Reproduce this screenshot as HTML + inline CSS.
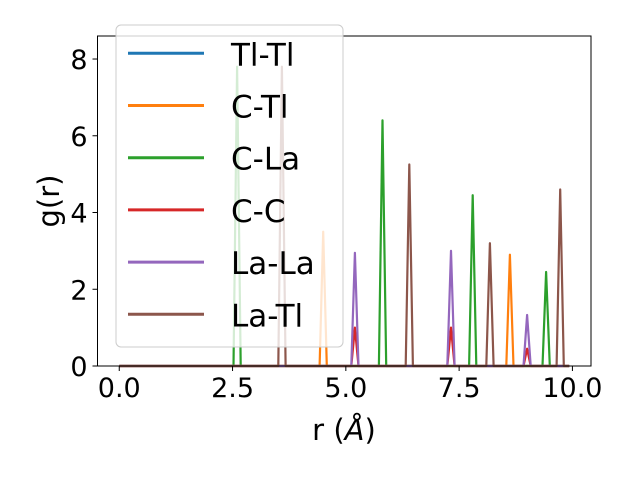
<!DOCTYPE html>
<html><head><meta charset="utf-8"><style>
body{margin:0;background:#fff;}
text{font-family:"DejaVu Sans","Liberation Sans",sans-serif;fill:#000;}
</style></head><body>
<svg id="chart" width="640" height="480" xmlns="http://www.w3.org/2000/svg">
<rect x="0" y="0" width="640" height="480" fill="#fff"/>
<g id="plot"></g>
<g id="axes"></g>
<g id="legend"></g>
</svg>
<script>
const seriesNames = ["Tl-Tl","C-Tl","C-La","C-C","La-La","La-Tl"];
const seriesColors = ["#1f77b4","#ff7f0e","#2ca02c","#d62728","#9467bd","#8c564b"];
const peakR_TlTl = [];
const peakG_TlTl = [];
const peakR_CTl = [4.5, 8.62];
const peakG_CTl = [3.5, 2.9];
const peakR_CLa = [2.6, 5.81, 7.8, 9.42];
const peakG_CLa = [7.8, 6.4, 4.45, 2.45];
const peakR_CC = [5.2, 7.32, 9.0];
const peakG_CC = [1.0, 1.0, 0.45];
const peakR_LaLa = [5.2, 7.32, 9.0];
const peakG_LaLa = [2.95, 3.0, 1.33];
const peakR_LaTl = [3.59, 6.4, 8.18, 9.73];
const peakG_LaTl = [7.8, 5.25, 3.2, 4.6];
const xTicks = [0, 2.5, 5, 7.5, 10];
const xTickLabels = ["0.0","2.5","5.0","7.5","10.0"];
const yTicks = [0, 2, 4, 6, 8];
const yTickLabels = ["0","2","4","6","8"];
const rMax = 9.93;

const NS="http://www.w3.org/2000/svg";
const L=97.5,R=591,T=36,B=366;
const xMin=-0.48,xMax=10.41,yMin=0,yMax=8.6;
const sx=v=>L+(v-xMin)/(xMax-xMin)*(R-L);
const sy=v=>B-(v-yMin)/(yMax-yMin)*(B-T);
function mk(tag,attrs,parent){const e=document.createElementNS(NS,tag);for(const k in attrs)e.setAttribute(k,attrs[k]);parent.appendChild(e);return e;}

const plot=document.getElementById('plot');
const allR=[peakR_TlTl,peakR_CTl,peakR_CLa,peakR_CC,peakR_LaLa,peakR_LaTl];
const allG=[peakG_TlTl,peakG_CTl,peakG_CLa,peakG_CC,peakG_LaLa,peakG_LaTl];
const hw=0.08;
for(let s=0;s<6;s++){
  let pts=[[0,0]];
  const rs=allR[s],gs=allG[s];
  for(let i=0;i<rs.length;i++){pts.push([rs[i]-hw,0],[rs[i],gs[i]],[rs[i]+hw,0]);}
  pts.push([rMax,0]);
  const d=pts.map((p,i)=>(i?'L':'M')+sx(p[0]).toFixed(1)+','+sy(p[1]).toFixed(1)).join('');
  const p=mk('path',{d:d,fill:'none',stroke:seriesColors[s],'stroke-width':2.2,'stroke-linejoin':'round'},plot);
  
  
}

const axes=document.getElementById('axes');
const fr=mk('rect',{x:L,y:T,width:R-L,height:B-T,fill:'none',stroke:'#000','stroke-width':1},axes);


xTicks.forEach((v,i)=>{
  mk('line',{x1:sx(v),x2:sx(v),y1:B,y2:B+5,stroke:'#000'},axes);
  const t=mk('text',{x:sx(v),y:B+31,'text-anchor':'middle','font-size':27},axes);
  t.textContent=xTickLabels[i];
  
  
});
yTicks.forEach((v,i)=>{
  mk('line',{x1:L-5,x2:L,y1:sy(v),y2:sy(v),stroke:'#000'},axes);
  const t=mk('text',{x:L-10,y:sy(v)+10,'text-anchor':'end','font-size':27},axes);
  t.textContent=yTickLabels[i];
  
  
});
const xl=mk('text',{x:344,y:440,'text-anchor':'middle','font-size':29},axes);
xl.innerHTML='r (<tspan font-style="italic">Å</tspan>)';


const yl=mk('text',{x:0,y:0,'text-anchor':'middle','font-size':29,transform:'translate(59,201) rotate(-90)'},axes);
yl.textContent='g(r)';



const lg=document.getElementById('legend');
const lb=mk('rect',{x:116,y:25,width:227,height:322,rx:5,fill:'#fff','fill-opacity':0.8,stroke:'#ccc'},lg);


seriesNames.forEach((n,i)=>{
  const y=53.3+i*52.2;
  const g=mk('g',{},lg);
  
  
  mk('line',{x1:128,x2:204,y1:y,y2:y,stroke:seriesColors[i],'stroke-width':3},g);
  const t=mk('text',{x:231,y:y+12,'font-size':31},g);
  t.textContent=n;
});
</script>
</body></html>
